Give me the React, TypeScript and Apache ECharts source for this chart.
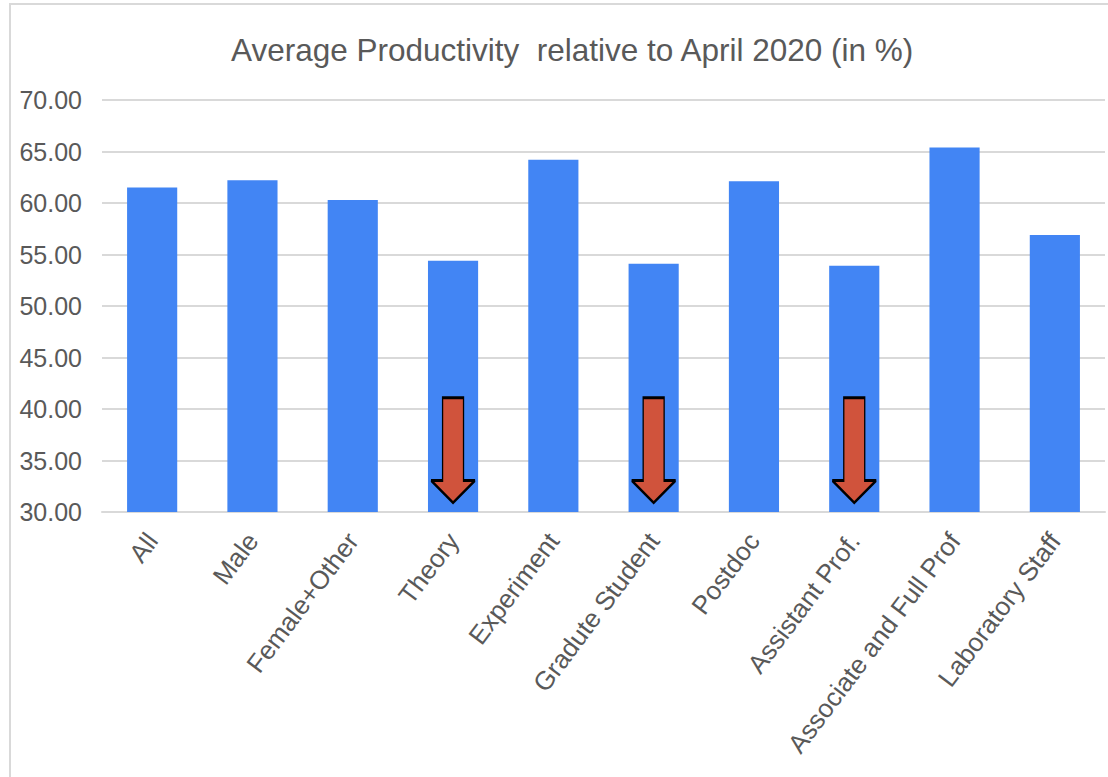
import React, { useEffect, useRef } from "react";
import * as echarts from "echarts";

const categories = [
  "All",
  "Male",
  "Female+Other",
  "Theory",
  "Experiment",
  "Gradute Student",
  "Postdoc",
  "Assistant Prof.",
  "Associate and Full Prof",
  "Laboratory Staff",
];
const values = [61.5, 62.2, 60.3, 54.4, 64.2, 54.1, 62.1, 53.9, 65.4, 56.9];
const yTicks = { min: 30, max: 70, interval: 5 };
const arrowCategories = ["Theory", "Gradute Student", "Assistant Prof."];
const arrowCenterValue = 36;

const arrowPath =
  "path://M12,0 L32,0 L32,82 L43,82 L22,104 L1,82 L12,82 Z";

export default function App() {
  const ref = useRef<HTMLDivElement>(null);
  useEffect(() => {
    if (!ref.current) return;
    const chart = echarts.init(ref.current, undefined, { renderer: "svg" });
    chart.setOption({
      animation: false,
      backgroundColor: "#ffffff",
      title: {
        text: "Average Productivity  relative to April 2020 (in %)",
        left: 226,
        top: 29,
        textStyle: {
          fontFamily: "Liberation Sans, Arial, sans-serif",
          fontSize: 31.5,
          fontWeight: "normal",
          color: "#595959",
        },
      },
      graphic: [
        {
          type: "rect",
          shape: { x: 10, y: 4, width: 1120, height: 800 },
          style: { fill: "none", stroke: "#d9d9d9", lineWidth: 2 },
          silent: true,
        },
      ],
      grid: { left: 102, right: 3, top: 100, bottom: 265 },
      xAxis: {
        type: "category",
        data: categories,
        axisLine: { show: true, lineStyle: { color: "#d9d9d9", width: 2 } },
        axisTick: { show: false },
        axisLabel: {
          rotate: 53,
          interval: 0,
          margin: 24,
          fontFamily: "Liberation Sans, Arial, sans-serif",
          fontSize: 26,
          color: "#595959",
        },
      },
      yAxis: {
        type: "value",
        min: yTicks.min,
        max: yTicks.max,
        interval: yTicks.interval,
        axisLine: { show: false },
        axisTick: { show: false },
        splitLine: { lineStyle: { color: "#d9d9d9", width: 2 } },
        axisLabel: {
          margin: 20,
          fontFamily: "Liberation Sans, Arial, sans-serif",
          fontSize: 25,
          color: "#595959",
          formatter: (v: number) => v.toFixed(2),
        },
      },
      series: [
        {
          type: "bar",
          data: values,
          barWidth: "50%",
          itemStyle: { color: "#4285f4" },
          markPoint: {
            symbol: arrowPath,
            symbolSize: [44, 105],
            symbolKeepAspect: false,
            label: { show: false },
            itemStyle: {
              color: "#d0533c",
              borderColor: "#000000",
              borderWidth: 2,
            },
            data: arrowCategories.map((c) => ({
              coord: [c, arrowCenterValue],
            })),
          },
        },
      ],
    });
    return () => chart.dispose();
  }, []);
  return (
    <div
      ref={ref}
      style={{ position: "fixed", left: 0, top: 0, width: 1108, height: 777 }}
    />
  );
}
